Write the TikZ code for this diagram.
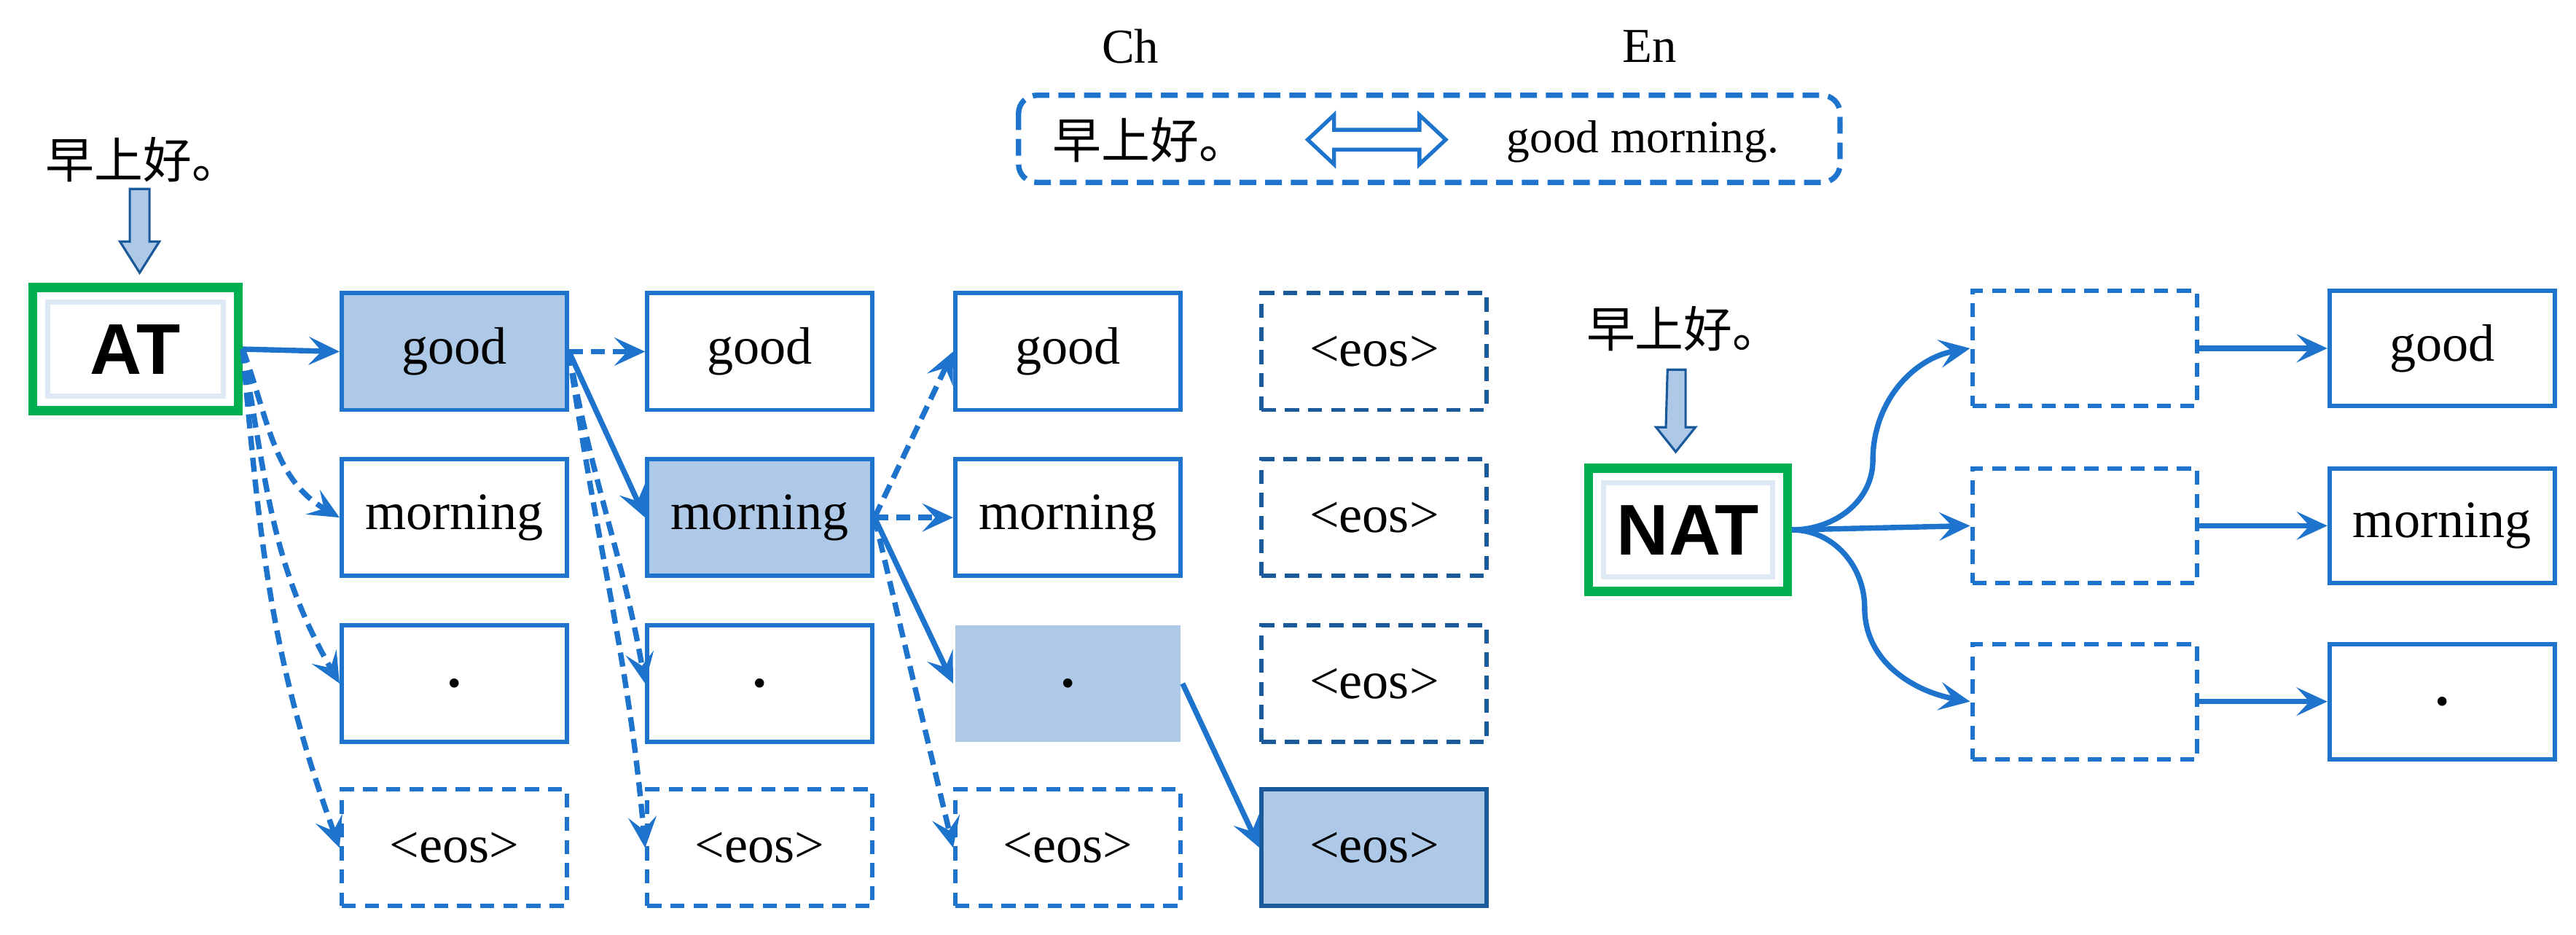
\documentclass[tikz,border=0pt]{standalone}
\usepackage{fontspec}
\setmainfont{Liberation Serif}
\newfontfamily\cjk{Noto Sans CJK SC}
\newfontfamily\hv{Liberation Sans}
\usetikzlibrary{arrows.meta}
\definecolor{lb}{HTML}{1E74CC}
\definecolor{fillb}{HTML}{AEC8E8}
\definecolor{db}{HTML}{1A5A9A}
\definecolor{gr}{HTML}{00B050}
\begin{document}
\begin{tikzpicture}[x=0.45mm,y=-0.45mm,
  box/.style={draw=lb,line width=3.4pt,minimum width=137*0.45mm,minimum height=71*0.45mm,inner sep=0pt,font=\fontsize{41}{45}\selectfont},
  dbox/.style={box,dash pattern=on 11pt off 7pt},
  ddbox/.style={dbox,draw=db},
  fbox/.style={box,fill=fillb},
  gbox/.style={draw=gr,line width=7pt,fill=white,inner sep=0pt,font=\hv\bfseries\fontsize{56}{60}\selectfont},
  arr/.style={draw=lb,line width=4.2pt,-{Stealth[length=24pt,width=22pt,inset=10pt]}},
  darr/.style={arr,dash pattern=on 11pt off 6pt},
  cjkt/.style={font=\cjk\fontsize{38}{42}\selectfont,inner sep=0pt},
  blk/.style={draw=db,line width=1.8pt,fill=fillb}]
\useasboundingbox (0,0) rectangle (1568,569);
% legend
\node[font=\fontsize{38}{42}\selectfont] (ch) at (688,28) {Ch};
\node[font=\fontsize{38}{42}\selectfont] (en) at (1004,28) {En};
\draw[lb,line width=4.2pt,dash pattern=on 13pt off 7pt,rounded corners=14pt] (620,58) rectangle (1120,111);
\node[cjkt] (lz) at (700,85) {早上好。};
\node[font=\fontsize{36}{40}\selectfont] (le) at (1000,86) {good morning.};
\draw[draw=lb,line width=3pt,fill=white,line join=miter] (796,85) -- (812,70) -- (812,79) -- (864,79) -- (864,70) -- (880,85) -- (864,100) -- (864,91) -- (812,91) -- (812,100) -- cycle;
% AT
\node[cjkt] (zh1) at (87,97) {早上好。};
\draw[blk] (79,115) -- (91,115) -- (91,147) -- (97,147) -- (85,166) -- (73,147) -- (79,147) -- cycle;
\node[gbox,minimum width=125*0.45mm,minimum height=75*0.45mm] (AT) at (82.5,212.5) {AT};
\draw[fillb,line width=4pt,opacity=0.4] (29,184) rectangle (136,241);
% columns
\node[fbox] (g1) at (276.5,214) {good};
\node[box] (m1) at (276.5,315) {morning};
\node[box,font=\fontsize{60}{60}\selectfont] (d1) at (276.5,416) {.};
\node[dbox] (e1) at (276.5,516) {<eos>};
\node[box] (g2) at (462.5,214) {good};
\node[fbox] (m2) at (462.5,315) {morning};
\node[box,font=\fontsize{60}{60}\selectfont] (d2) at (462.5,416) {.};
\node[dbox] (e2) at (462.5,516) {<eos>};
\node[box] (g3) at (650,214) {good};
\node[box] (m3) at (650,315) {morning};
\node[fbox,draw=none,font=\fontsize{60}{60}\selectfont] (d3) at (650,416) {.};
\node[dbox] (e3) at (650,516) {<eos>};
\node[ddbox] (e4a) at (836.5,214) {<eos>};
\node[ddbox] (e4b) at (836.5,315) {<eos>};
\node[ddbox] (e4c) at (836.5,416) {<eos>};
\node[box,fill=fillb,draw=db] (e4) at (836.5,516) {<eos>};
% AT arrows
\draw[arr] (AT.east) -- (g1.west);
\draw[darr] (AT.east) to[out=-70,in=150] (m1.west);
\draw[darr] (AT.east) to[out=-80,in=120] (d1.west);
\draw[darr] (AT.east) to[out=-85,in=110] (e1.west);
\draw[darr] (g1.east) -- (g2.west);
\draw[arr] (g1.east) -- (m2.west);
\draw[darr] (g1.east) to[out=-80,in=100] (d2.west);
\draw[darr] (g1.east) to[out=-82,in=95] (e2.west);
\draw[darr] (m2.east) -- (g3.west);
\draw[darr] (m2.east) -- (m3.west);
\draw[arr] (m2.east) -- (d3.west);
\draw[darr] (m2.east) -- (e3.west);
\draw[arr] (d3.east) -- (e4.west);
% NAT
\node[cjkt] (zh2) at (1025,200) {早上好。};
\draw[blk] (1015,225) -- (1026,225) -- (1026,260) -- (1032,260) -- (1020,275) -- (1008,260) -- (1014,260) -- cycle;
\node[gbox,minimum width=121*0.45mm,minimum height=75*0.45mm] (NAT) at (1027.5,322.5) {NAT};
\draw[fillb,line width=4pt,opacity=0.4] (976,294) rectangle (1079,351);
\node[dbox,minimum height=70*0.45mm] (n1) at (1269,212) {};
\node[dbox,minimum height=70*0.45mm] (n2) at (1269,320) {};
\node[dbox,minimum height=70*0.45mm] (n3) at (1269,427) {};
\node[box,minimum height=70*0.45mm] (o1) at (1486.5,212) {good};
\node[box,minimum height=70*0.45mm] (o2) at (1486.5,320) {morning};
\node[box,minimum height=70*0.45mm,font=\fontsize{60}{60}\selectfont] (o3) at (1486.5,427) {.};
\draw[arr] (NAT.east) to[out=0,in=-90] (1140,280) to[out=90,in=190] (n1.west);
\draw[arr] (NAT.east) -- (n2.west);
\draw[arr] (NAT.east) to[out=0,in=90] (1135,370) to[out=-90,in=170] (n3.west);
\draw[arr] (n1.east) -- (o1.west);
\draw[arr] (n2.east) -- (o2.west);
\draw[arr] (n3.east) -- (o3.west);
\end{tikzpicture}
\end{document}
